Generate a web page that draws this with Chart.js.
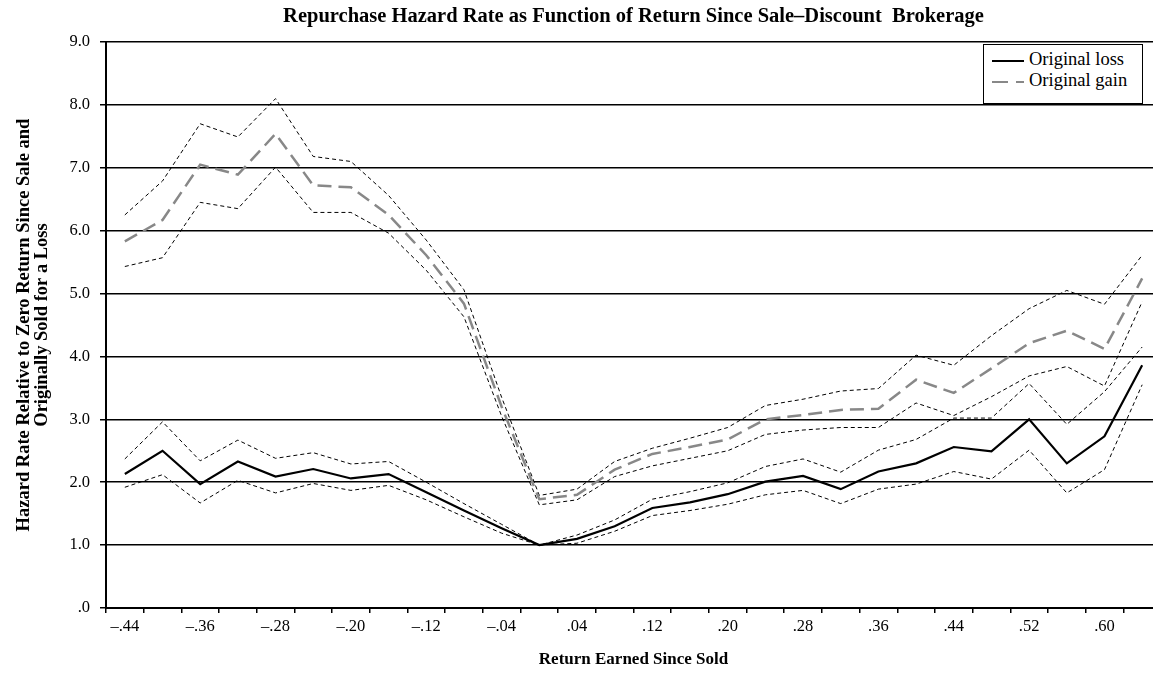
<!DOCTYPE html>
<html>
<head>
<meta charset="utf-8">
<script src="https://cdn.jsdelivr.net/npm/chart.js@4.4.0/dist/chart.umd.min.js"></script>
<style>
    html, body { margin: 0; padding: 0; background: #fff; overflow: hidden; }
    #wrap { position: relative; width: 1161px; height: 680px; }
    #legend {
        position: absolute; left: 983px; top: 44px; width: 158px; height: 58px;
        border: 1px solid #000; background: #fff;
        font-family: 'Liberation Serif', 'Times New Roman', serif; font-size: 18.5px; color: #000;
    }
    .row { position: absolute; left: 8px; height: 22px; line-height: 22px; white-space: nowrap; }
    .row svg { vertical-align: middle; margin-right: 5px; }
</style>
</head>
<body>
<div id="wrap">
    <canvas id="chart"></canvas>
    <div id="legend">
        <div class="row" style="top: 3px;"><svg width="32" height="4"><line x1="0" y1="2" x2="32" y2="2" stroke="#000" stroke-width="2"/></svg>Original loss</div>
        <div class="row" style="top: 24px;"><svg width="32" height="4"><line x1="0" y1="2" x2="32" y2="2" stroke="#888" stroke-width="2" stroke-dasharray="16 8"/></svg>Original gain</div>
    </div>
</div>
<script>
// categories: return earned since sold
const returnLabels = ['–.44', '–.40', '–.36', '–.32', '–.28', '–.24', '–.20', '–.16', '–.12', '–.08', '–.04', '.00', '.04', '.08',
    '.12', '.16', '.20', '.24', '.28', '.32', '.36', '.40', '.44', '.48', '.52', '.56', '.60', '.64'];

const originalLoss = [2.13, 2.50, 1.97, 2.33, 2.09, 2.21, 2.06, 2.13, 1.84, 1.55, 1.27, 1.00, 1.10, 1.30,
    1.59, 1.68, 1.81, 2.01, 2.10, 1.89, 2.17, 2.30, 2.56, 2.49, 3.00, 2.30, 2.73, 3.86];
const lossUpper = [2.37, 2.96, 2.34, 2.67, 2.38, 2.47, 2.29, 2.33, 2.00, 1.66, 1.33, 1.00, 1.16, 1.40,
    1.73, 1.85, 1.99, 2.25, 2.37, 2.16, 2.51, 2.68, 3.02, 3.02, 3.57, 2.92, 3.44, 4.15];
const lossLower = [1.92, 2.12, 1.67, 2.03, 1.83, 1.98, 1.87, 1.95, 1.72, 1.45, 1.19, 1.00, 1.03, 1.22,
    1.47, 1.55, 1.65, 1.80, 1.87, 1.66, 1.89, 1.97, 2.17, 2.05, 2.51, 1.83, 2.20, 3.55];

const originalGain = [5.83, 6.17, 7.05, 6.89, 7.54, 6.72, 6.69, 6.25, 5.61, 4.84, 3.20, 1.73, 1.80, 2.20,
    2.45, 2.56, 2.68, 3.00, 3.07, 3.15, 3.17, 3.63, 3.42, 3.81, 4.21, 4.41, 4.12, 5.24];
const gainUpper = [6.25, 6.79, 7.70, 7.49, 8.10, 7.18, 7.10, 6.56, 5.85, 5.06, 3.35, 1.79, 1.89, 2.33,
    2.54, 2.70, 2.87, 3.22, 3.32, 3.45, 3.49, 4.02, 3.86, 4.33, 4.76, 5.05, 4.83, 5.61];
const gainLower = [5.43, 5.57, 6.45, 6.35, 7.01, 6.29, 6.29, 5.96, 5.37, 4.63, 3.05, 1.64, 1.72, 2.09,
    2.26, 2.38, 2.50, 2.76, 2.83, 2.87, 2.87, 3.26, 3.06, 3.36, 3.69, 3.84, 3.53, 4.87];

// y axis 0..9
const yMin = 0, yMax = 9, yStep = 1;

const serif = "'Liberation Serif', 'Times New Roman', serif";

function band(label, data) {
    return {
        label: label, data: data,
        borderColor: '#000', borderWidth: 1, borderDash: [4, 3],
        pointRadius: 0, fill: false, tension: 0
    };
}

const ctx = document.getElementById('chart').getContext('2d');
const chart = new Chart(ctx, {
    type: 'line',
    data: {
        labels: returnLabels,
        datasets: [
            {
                label: 'Original loss', data: originalLoss,
                borderColor: '#000', borderWidth: 2.2,
                pointRadius: 0, fill: false, tension: 0
            },
            {
                label: 'Original gain', data: originalGain,
                borderColor: '#888', borderWidth: 2.5, borderDash: [14, 7],
                pointRadius: 0, fill: false, tension: 0
            },
            band('Loss upper', lossUpper),
            band('Loss lower', lossLower),
            band('Gain upper', gainUpper),
            band('Gain lower', gainLower)
        ]
    },
    options: {
        responsive: true,
        maintainAspectRatio: false,
        animation: false,
        layout: { padding: 0 },
        plugins: {
            legend: { display: false },
            tooltip: { enabled: false },
            title: {
                display: true,
                fullSize: false,
                text: 'Repurchase Hazard Rate as Function of Return Since Sale–Discount  Brokerage',
                color: '#000',
                font: { family: serif, size: 20.5, weight: 'bold', lineHeight: 1.0 },
                padding: { top: 6, bottom: 15.5 }
            }
        },
        scales: {
            x: {
                offset: true,
                afterFit: (scale) => { scale.height = 72; },
                grid: {
                    offset: true, drawOnChartArea: false, drawTicks: true,
                    tickLength: 5, color: '#000', lineWidth: 1.5
                },
                border: { display: true, color: '#000', width: 2 },
                ticks: {
                    autoSkip: false, maxRotation: 0, minRotation: 0, padding: 4,
                    color: '#000', font: { family: serif, size: 16.5 },
                    callback: function (value, index) {
                        return index % 2 === 0 ? this.getLabelForValue(value) : '';
                    }
                },
                title: {
                    display: true, text: 'Return Earned Since Sold', color: '#000',
                    font: { family: serif, size: 17, weight: 'bold' },
                    padding: { top: 0, bottom: 9.8 }
                }
            },
            y: {
                min: yMin, max: yMax,
                afterFit: (scale) => { scale.width = 106; },
                grid: { color: '#000', lineWidth: 1.5, tickLength: 6 },
                border: { display: true, color: '#000', width: 2 },
                ticks: {
                    stepSize: yStep, padding: 10, color: '#000',
                    font: { family: serif, size: 16.5 },
                    callback: (v) => v === 0 ? '.0' : v.toFixed(1)
                },
                title: {
                    display: true,
                    text: ['Hazard Rate Relative to Zero Return Since Sale and', 'Originally Sold for a Loss'],
                    color: '#000',
                    font: { family: serif, size: 18.5, weight: 'bold', lineHeight: 1.0 },
                    padding: { top: 14.7, bottom: 0 }
                }
            }
        }
    }
});
</script>
</body>
</html>
